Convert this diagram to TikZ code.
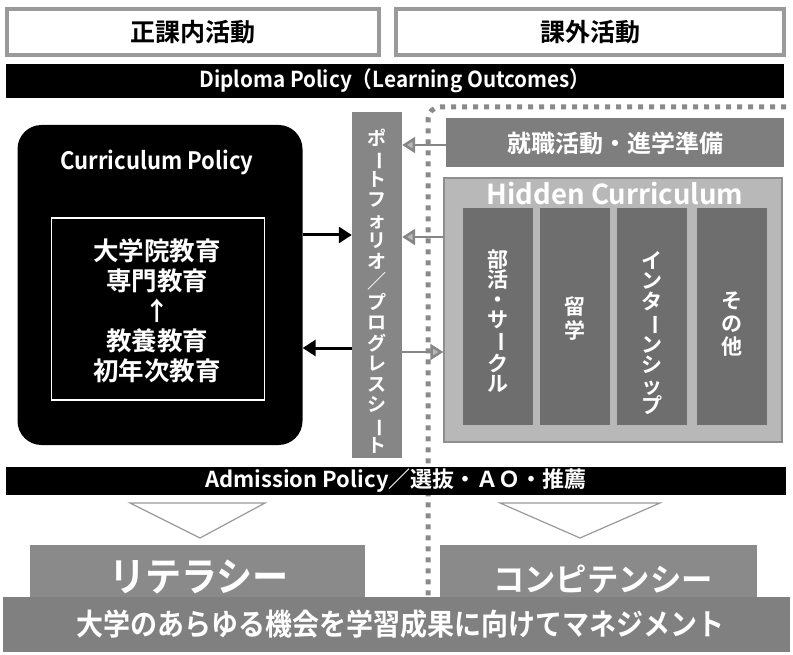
\documentclass[tikz,border=0pt]{standalone}
\usepackage{fontspec}
\usepackage{graphicx}
\setmainfont{Noto Sans CJK JP}[BoldFont={Noto Sans CJK JP Bold}]
\usetikzlibrary{arrows.meta}
\newcommand\vbar{\rotatebox[origin=c]{-90}{ー}}
\definecolor{hdrgray}{HTML}{9A9A9A}
\definecolor{pfgray}{HTML}{868686}
\definecolor{jobgray}{HTML}{7E7E7E}
\definecolor{hcbg}{HTML}{B8B8B8}
\definecolor{hcborder}{HTML}{8E8E8E}
\definecolor{colgray}{HTML}{6E6E6E}
\definecolor{litgray}{HTML}{8A8A8A}
\definecolor{botgray}{HTML}{808080}
\definecolor{dotgray}{HTML}{8A8A8A}
\begin{document}
\begin{tikzpicture}[x=1pt,y=-1pt,
  hdrbox/.style={draw=hdrgray, line width=3.5pt, fill=white, inner sep=0pt, font=\fontsize{25}{28}\selectfont\bfseries},
  blackbar/.style={fill=black, inner sep=0pt, text=white},
  graybox/.style={inner sep=0pt, text=white},
  wtext/.style={text=white, inner sep=0pt, align=center},
  blackarrow/.style={line width=3pt, -{Triangle[width=16pt,length=13pt]}},
  grayarrow/.style={draw=pfgray, line width=2.5pt, -{Triangle[open, width=16pt,length=13pt, fill=hcbg]}},
  dotline/.style={draw=dotgray, line width=5pt, dash pattern=on 5pt off 6pt, rounded corners=12pt},
  tri/.style={draw=hdrgray, line width=1.2pt, fill=white}
]
\useasboundingbox (0,0) rectangle (793,655);

% header boxes
\node[hdrbox, minimum width=372pt, minimum height=46pt] (hL) at (193,32) {正課内活動};
\node[hdrbox, minimum width=388pt, minimum height=46pt] (hR) at (590,32) {課外活動};

% diploma bar
\node[blackbar, minimum width=778pt, minimum height=34pt, font=\fontsize{22}{24}\selectfont\bfseries] (dp) at (395,81) {\scalebox{0.94}[1]{Diploma Policy（Learning Outcomes）}};

% dotted boundary
\draw[dotline] (786,107) -- (428,107) -- (428,597);

% curriculum policy
\node[fill=black, rounded corners=24pt, minimum width=285pt, minimum height=320pt, inner sep=0pt] (cp) at (160,285) {};
\node[wtext, font=\fontsize{24}{26}\selectfont\bfseries] (cpt) at (157,162) {\scalebox{0.92}[1]{Curriculum Policy}};
\node[draw=white, line width=1.2pt, minimum width=213pt, minimum height=182pt, inner sep=0pt] (inner) at (158,309) {};
\node[wtext, font=\fontsize{25.5}{30}\selectfont\bfseries] (innert) at (157,311) {大学院教育\\専門教育\\↑\\教養教育\\初年次教育};

% portfolio bar
\node[fill=pfgray, minimum width=50pt, minimum height=345pt, inner sep=0pt] (pf) at (377,285) {};
\node[wtext, font=\fontsize{19}{20.5}\selectfont\bfseries] (pft) at (377,291) {ポ\\\vbar\\ト\\フ\\ォ\\リ\\オ\\／\\プ\\ロ\\グ\\レ\\ス\\シ\\\vbar\\ト};

% job box
\node[graybox, fill=jobgray, minimum width=338pt, minimum height=49pt, font=\fontsize{24}{26}\selectfont\bfseries] (job) at (615,143) {就職活動・進学準備};

% hidden curriculum
\node[fill=hcbg, draw=hcborder, line width=1.5pt, minimum width=338pt, minimum height=264pt, inner sep=0pt] (hc) at (613,310) {};
\node[wtext, font=\fontsize{27.5}{30}\selectfont\bfseries] (hct) at (615,194) {Hidden Curriculum};
\foreach \n/\x in {1/498,2/575,3/652,4/732}{
  \node[fill=colgray, minimum width=70pt, minimum height=217pt, inner sep=0pt] (c\n) at (\x,316.5) {};
}
\node[wtext, font=\fontsize{21}{20}\selectfont\bfseries] (c1t) at (498,321) {部\\活\\・\\サ\\\vbar\\ク\\ル};
\node[wtext, font=\fontsize{21}{24}\selectfont\bfseries] (c2t) at (575,318) {留\\学};
\node[wtext, font=\fontsize{21}{20.5}\selectfont\bfseries] (c3t) at (652,333) {イ\\ン\\タ\\\vbar\\ン\\シ\\ッ\\プ};
\node[wtext, font=\fontsize{21}{23}\selectfont\bfseries] (c4t) at (732,324) {そ\\の\\他};

% arrows
\coordinate (ya) at (0,145);
\coordinate (yb) at (0,237);
\coordinate (yc) at (0,352);
\coordinate (yd) at (0,235);
\coordinate (ye) at (0,348);
\draw[blackarrow] (cp.east |- yd) -- (pf.west |- yd);
\draw[blackarrow] (pf.west |- ye) -- (cp.east |- ye);
\draw[grayarrow] (job.west |- ya) -- (pf.east |- ya);
\draw[grayarrow] (hc.west |- yb) -- (pf.east |- yb);
\draw[grayarrow] (pf.east |- yc) -- (hc.west |- yc);

% admission bar
\node[blackbar, minimum width=780pt, minimum height=28pt, font=\fontsize{22}{24}\selectfont\bfseries] (adm) at (396,481) {\scalebox{1.0}[1]{Admission Policy／選抜・ＡＯ・推薦}};

% triangles
\draw[tri] (130,503) -- (265,503) -- (200,538) -- cycle;
\draw[tri] (500,503) -- (660,503) -- (580,538) -- cycle;

% literacy / competency
\node[fill=litgray, minimum width=335pt, minimum height=56pt, inner sep=0pt] (lit) at (197,573) {};
\node[wtext, font=\fontsize{38}{40}\selectfont\bfseries] (litt) at (199,577) {\scalebox{0.95}[1.05]{リテラシー}};
\node[fill=litgray, minimum width=317pt, minimum height=56pt, inner sep=0pt] (comp) at (598,573) {};
\node[wtext, font=\fontsize{32}{34}\selectfont\bfseries] (compt) at (603,579) {\scalebox{0.98}[1]{コンピテンシー}};

% bottom bar
\node[fill=botgray, minimum width=787pt, minimum height=55pt, inner sep=0pt] (bot) at (396,624.5) {};
\node[wtext, font=\fontsize{30}{32}\selectfont\bfseries] (bott) at (400,624) {\scalebox{0.9}[1]{大学のあらゆる機会を学習成果に向けてマネジメント}};
\end{tikzpicture}
\end{document}
